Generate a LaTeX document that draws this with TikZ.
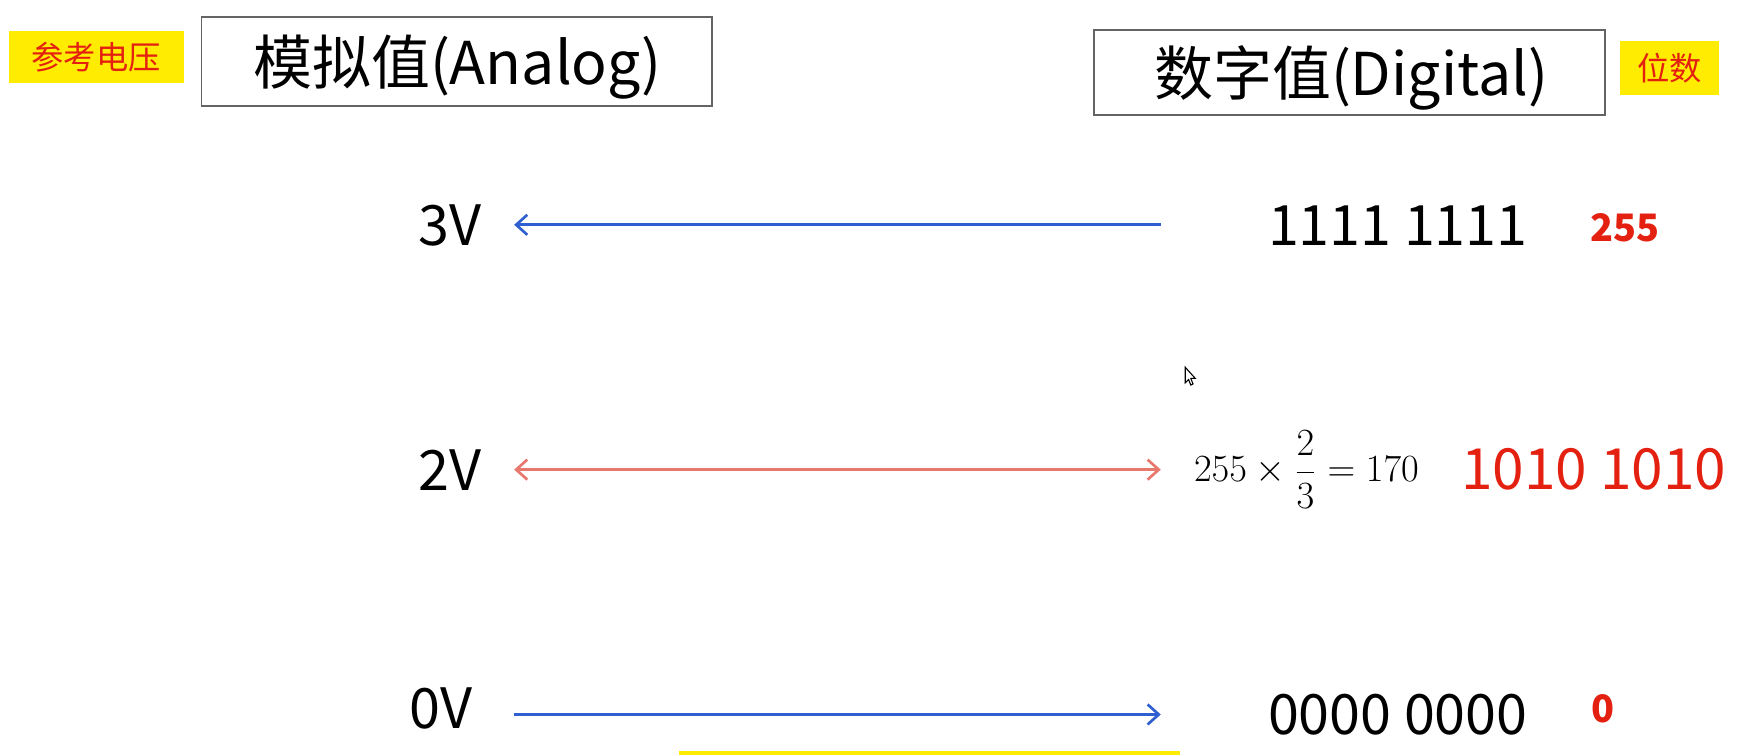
\documentclass[tikz,border=0pt]{standalone}
\usepackage{fontspec}
\setmainfont{Noto Sans CJK SC}
\usetikzlibrary{arrows.meta}
\definecolor{ablue}{RGB}{47,95,208}
\definecolor{asalmon}{RGB}{232,120,110}
\definecolor{tred}{RGB}{228,32,16}
\definecolor{hyellow}{RGB}{255,236,0}
\definecolor{bgray}{RGB}{100,100,100}
\tikzset{
  titlebox/.style={draw=bgray, line width=0.8pt, minimum width=229.5pt, minimum height=40pt, inner sep=0pt},
  titletext/.style={inner sep=0pt, font=\fontsize{26.5}{30}\selectfont},
  tagbox/.style={fill=hyellow, text=tred, inner sep=0pt, font=\fontsize{14.5}{17}\selectfont},
  volt/.style={font=\fontsize{25}{28}\selectfont},
  bits/.style={font=\fontsize{25}{28}\selectfont},
  redbits/.style={text=tred, font=\fontsize{25.5}{30}\selectfont},
  count/.style={text=tred, font=\bfseries\fontsize{17}{20}\selectfont},
  conn/.style={line width=1.2pt, -{Straight Barb[length=5pt,width=9pt,line width=1.2pt]}},
}
\begin{document}
\begin{tikzpicture}[x=0.5pt,y=-0.5pt]
\useasboundingbox (0,0) rectangle (1568,678);
\fill[white] (0,0) rectangle (1568,678);
% header boxes
\node[tagbox, minimum width=78.5pt, minimum height=23.5pt] (ref) at (86.5,51.5) {参考电压};
\node[titlebox] (analog) at (410.5,55) {};
\node[titletext] (analogtxt) at (411,60) {模拟值(Analog)};
\node[titlebox, minimum height=38pt] (digital) at (1212.5,65) {};
\node[titletext] (digitaltxt) at (1214,70) {数字值(Digital)};
\node[tagbox, minimum width=44.5pt, minimum height=24pt] (bitsno) at (1500.5,61) {位数};
% row labels
\node[volt] (v3) at (404,203) {3V};
\node[volt] (v2) at (404,422) {2V};
\node[volt] (v0) at (396,637) {0V};
\node[bits] (d3) at (1256,203) {1111 1111};
\node[bits] (d0) at (1256,642) {0000 0000};
\node[font=\fontsize{17.5}{20}\selectfont] (calc) at (1174,422) {$\displaystyle 255\times\frac{2}{3}=170$};
\node[redbits] (d2) at (1432,422) {1010 1010};
\node[count] (c3) at (1460,205) {255};
\node[count] (c0) at (1440,637) {0};
% connector end points
\coordinate (l3) at (462,202);
\coordinate (r3) at (1043,202);
\coordinate (l2) at (462,422);
\coordinate (r2) at (1043,422);
\coordinate (l0) at (462,642);
\coordinate (r0) at (1043,642);
\draw[conn, ablue] (r3) -- (l3);
\draw[conn, asalmon, {Straight Barb[length=5pt,width=9pt,line width=1.2pt]}-{Straight Barb[length=5pt,width=9pt,line width=1.2pt]}] (l2) -- (r2);
\draw[conn, ablue] (l0) -- (r0);
% cursor
\draw[black, line width=0.5pt, fill=white] (1065,330) -- (1065,344) -- (1068,341) -- (1070,346) -- (1072,345) -- (1070,340) -- (1074,340) -- cycle;
% bottom yellow strip
\fill[hyellow] (610,675) rectangle (1060,678);
\end{tikzpicture}
\end{document}
